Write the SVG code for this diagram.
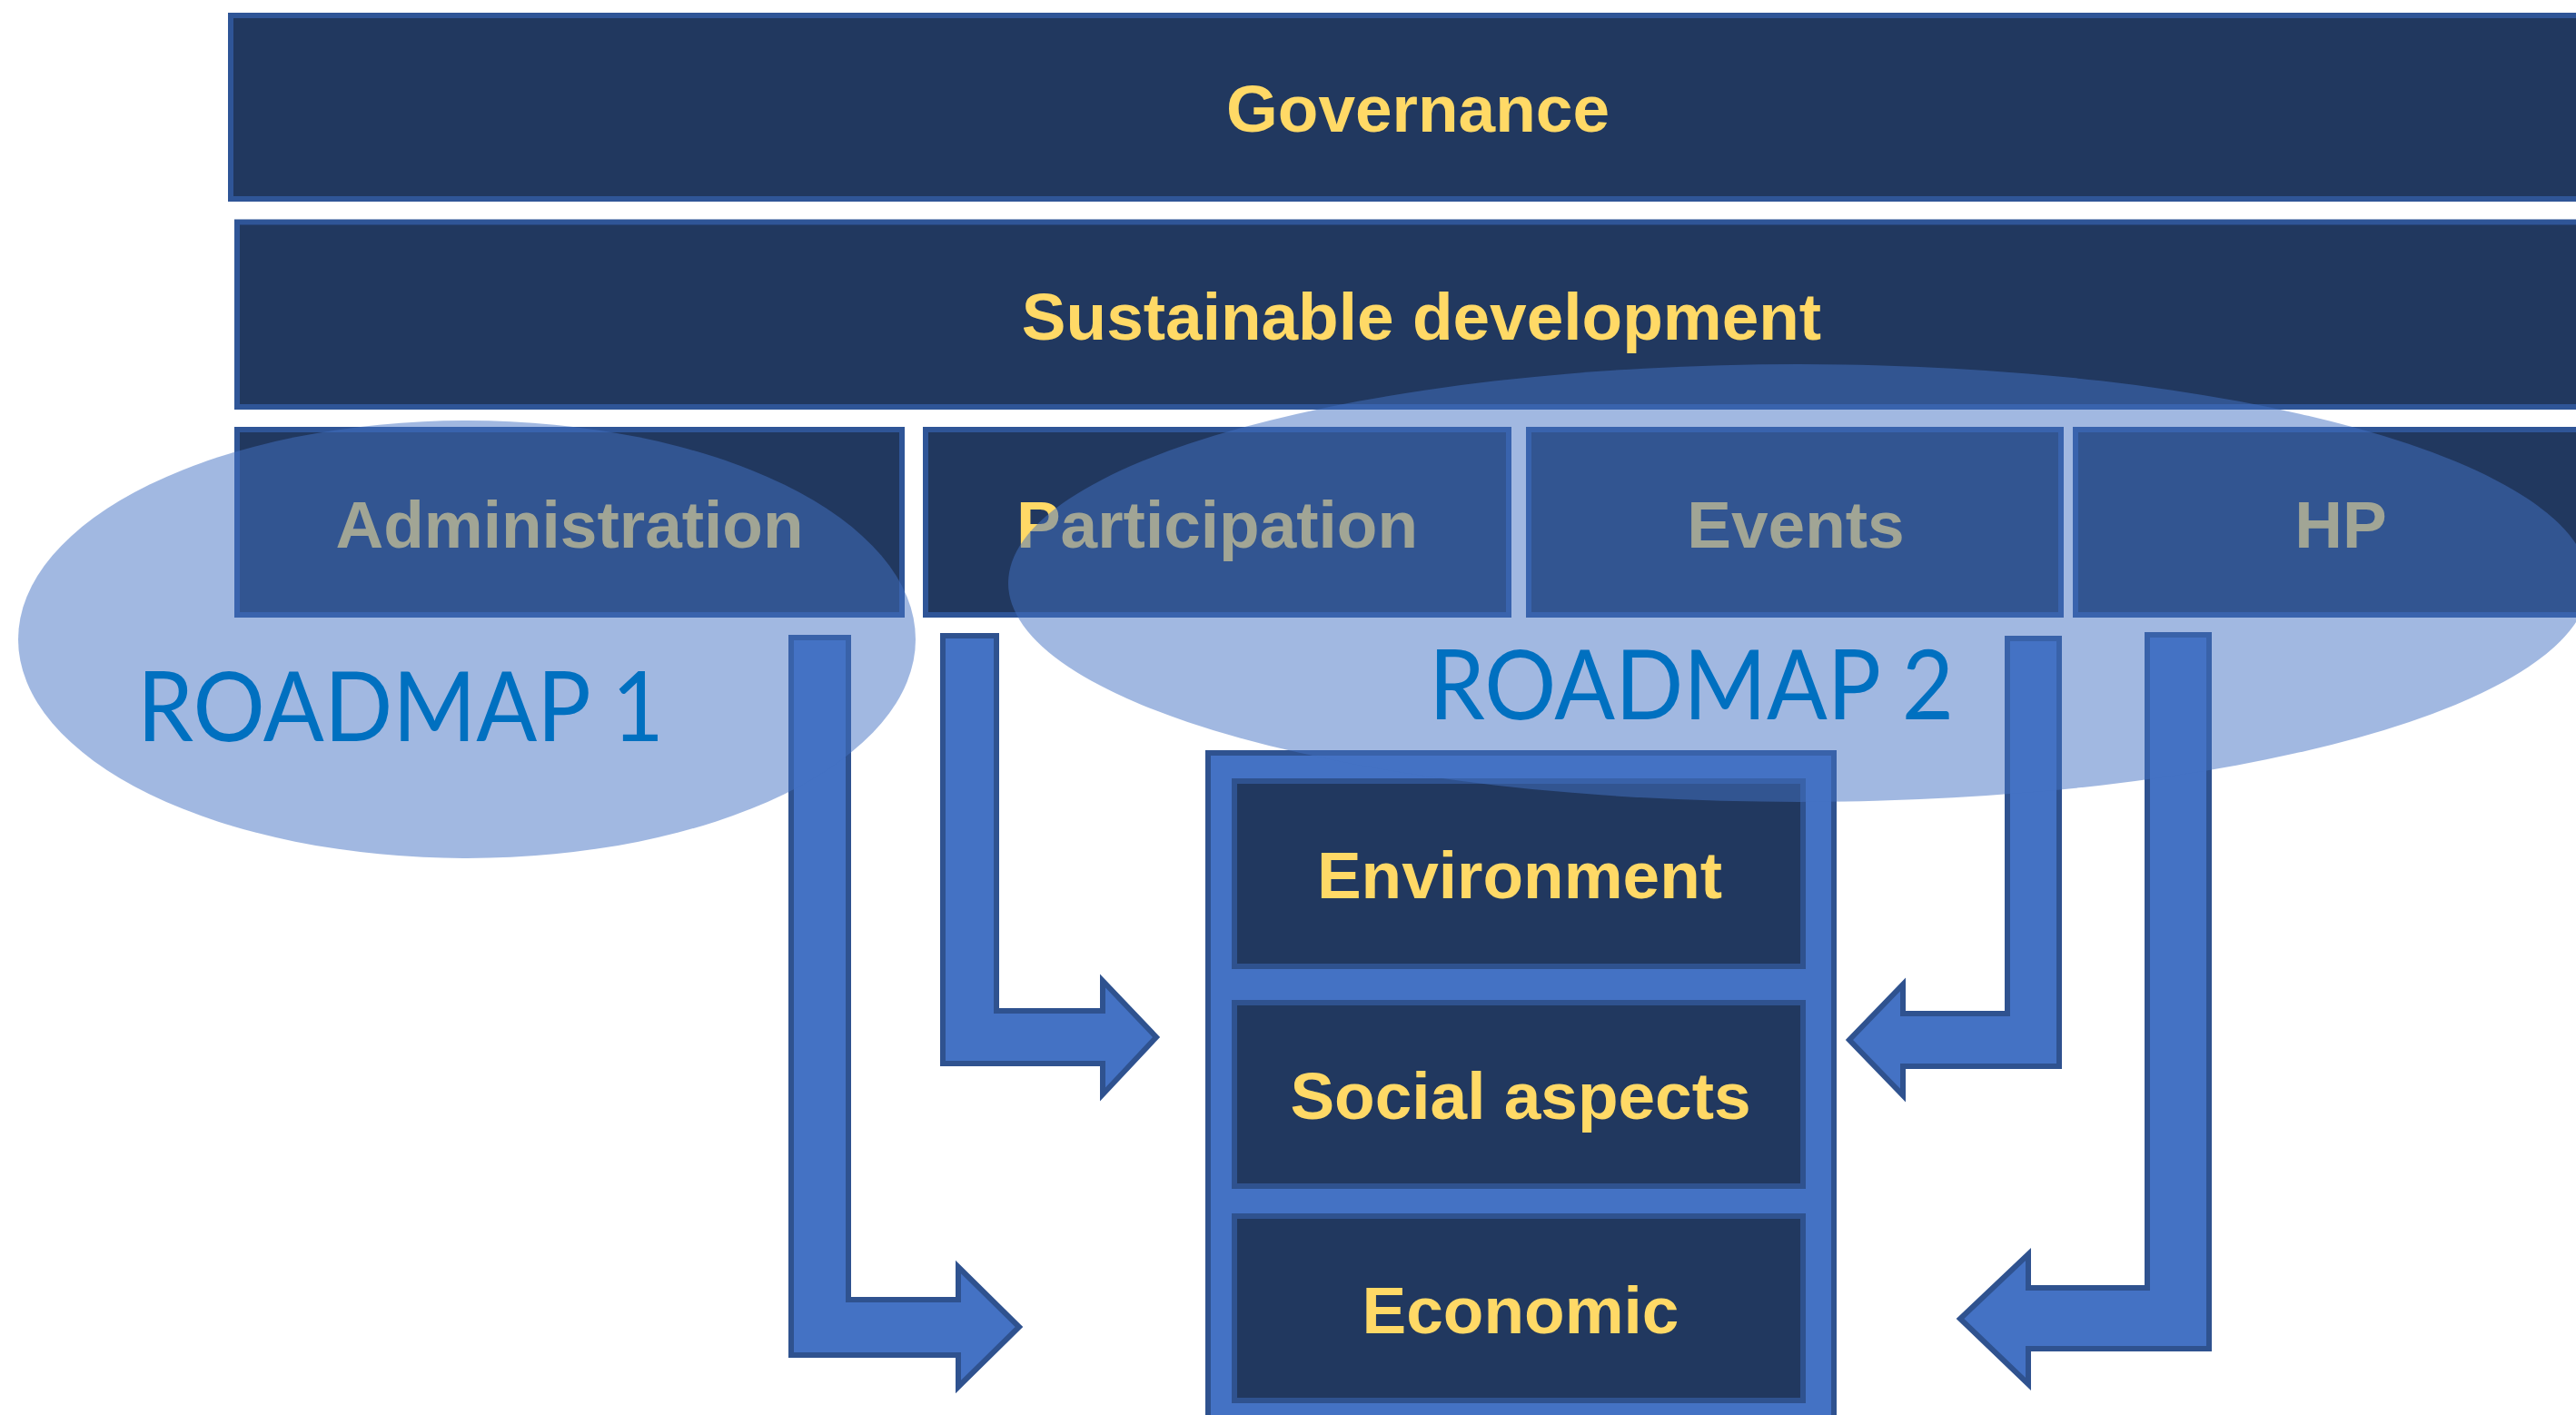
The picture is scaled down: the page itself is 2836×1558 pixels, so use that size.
<svg xmlns="http://www.w3.org/2000/svg" width="2836" height="1558" viewBox="0 0 2836 1558">
<style>
.bar{fill:#21385F;stroke:#2F5597;stroke-width:6}
.inner{fill:#21385F;stroke:#2F528F;stroke-width:6}
.lbl{font-family:"Liberation Sans",Arial,sans-serif;font-weight:bold;font-size:73px;fill:#FFD966;text-anchor:middle}
.arrow{fill:#4472C4;stroke:#2F528F;stroke-width:6;stroke-linejoin:miter}
.roadmap{fill:#4472C4;fill-opacity:0.5}
.rmtext{font-family:Lato,"Liberation Sans",sans-serif;font-size:106px;fill:#0070C0}
</style>
<rect width="2836" height="1558" fill="#FFFFFF"/>
<g id="governance">
<rect class="bar" x="254" y="17" width="2700" height="202"/>
<text class="lbl" x="1561" y="145">Governance</text>
</g>
<g id="sustainable-development">
<rect class="bar" x="261" y="244.5" width="2700" height="203.5"/>
<text class="lbl" x="1565" y="374">Sustainable development</text>
</g>
<g id="administration">
<rect class="bar" x="261" y="473" width="732" height="204"/>
<text class="lbl" x="627" y="603">Administration</text>
</g>
<g id="participation">
<rect class="bar" x="1019" y="473" width="642" height="204"/>
<text class="lbl" x="1340" y="603">Participation</text>
</g>
<g id="events">
<rect class="bar" x="1683" y="473" width="586" height="204"/>
<text class="lbl" x="1977" y="603">Events</text>
</g>
<g id="hp">
<rect class="bar" x="2285" y="473" width="700" height="204"/>
<text class="lbl" x="2577" y="603">HP</text>
</g>
<g id="connectors">
<path class="arrow" d="M871,702 H934 V1431 H1055 V1395 L1122,1461 L1055,1527 V1492 H871 Z"/>
<path class="arrow" d="M1038,700 H1097 V1113 H1214 V1080 L1273,1142 L1214,1205 V1171 H1038 Z"/>
<path class="arrow" d="M2267,703 H2210 V1116 H2095 V1084 L2036,1145 L2095,1206 V1174 H2267 Z"/>
<path class="arrow" d="M2432,699 H2364 V1418 H2233 V1381 L2158,1452 L2233,1524 V1485 H2432 Z"/>
</g>
<g id="pillars">
<rect x="1330" y="829" width="689" height="740" fill="#4472C4" stroke="#2F528F" stroke-width="6"/>
<g id="environment">
<rect class="inner" x="1359" y="860" width="626" height="204"/>
<text class="lbl" x="1673" y="989">Environment</text>
</g>
<g id="social-aspects">
<rect class="inner" x="1359" y="1104" width="626" height="202"/>
<text class="lbl" x="1674" y="1232">Social aspects</text>
</g>
<g id="economic">
<rect class="inner" x="1359" y="1339" width="626" height="203"/>
<text class="lbl" x="1674" y="1468">Economic</text>
</g>
</g>
<g id="roadmap-1">
<ellipse class="roadmap" cx="514" cy="704" rx="494" ry="241"/>
<text class="rmtext" x="151" y="816" textLength="580" lengthAdjust="spacingAndGlyphs">ROADMAP 1</text>
</g>
<g id="roadmap-2">
<ellipse class="roadmap" cx="1980" cy="642" rx="870" ry="241"/>
<text class="rmtext" x="1573" y="792" textLength="578" lengthAdjust="spacingAndGlyphs">ROADMAP 2</text>
</g>
</svg>
